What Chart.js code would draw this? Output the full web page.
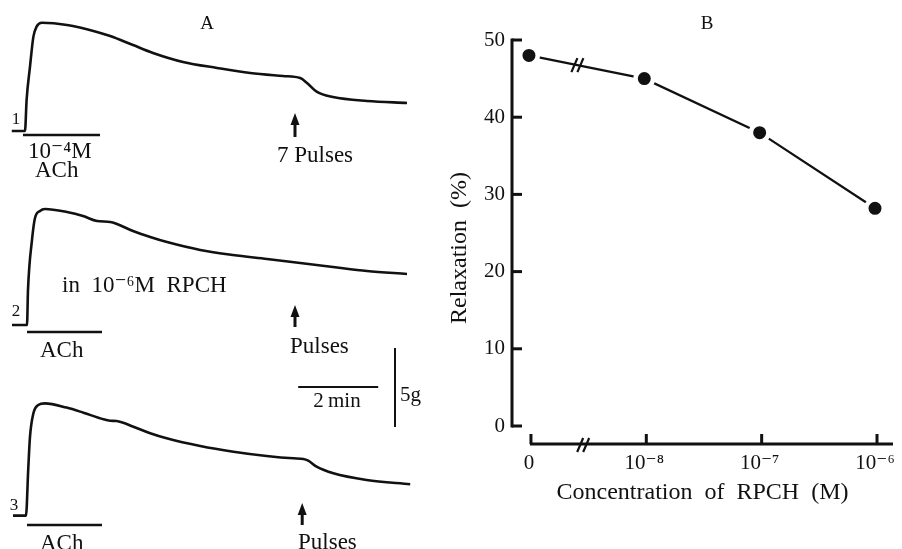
<!DOCTYPE html>
<html>
<head>
<meta charset="utf-8">
<script src="https://cdn.jsdelivr.net/npm/chart.js@4.4.1/dist/chart.umd.min.js"></script>
<style>
  html, body { margin: 0; padding: 0; background: #fff; }
  body { width: 902px; height: 549px; position: relative; overflow: hidden; }
  canvas { position: absolute; top: 0; }
  #traceChart { left: 0; }
  #doseChart { left: 440px; }
</style>
</head>
<body>
<canvas id="traceChart" width="440" height="549"></canvas>
<canvas id="doseChart" width="462" height="549"></canvas>
<script>
// Panel A: tension records, time in min from ACh, force in g above each baseline
const trace1Time = [-0.33, 0, 0.04, 0.125, 0.21, 0.29, 0.42, 1.05, 1.8, 2.13, 2.7, 3.2, 3.95, 4.8, 5.63, 6.45, 6.88, 7.05, 7.3, 7.7, 8.55, 9.55];
const trace1Force = [0, 0, 1.96, 4.07, 5.97, 6.6, 6.85, 6.71, 6.27, 6.01, 5.44, 4.94, 4.37, 3.99, 3.67, 3.48, 3.35, 3.04, 2.47, 2.15, 1.9, 1.77];

const trace2Time = [-0.325, 0.05, 0.075, 0.175, 0.25, 0.375, 0.5, 1.05, 1.45, 1.8, 2.13, 2.3, 2.7, 3.13, 3.55, 4.38, 5.2, 6.05, 6.88, 7.7, 8.55, 9.55];
const trace2Force = [0, 0, 2.22, 5.38, 6.77, 7.22, 7.34, 7.15, 6.9, 6.58, 6.52, 6.39, 5.95, 5.57, 5.25, 4.75, 4.43, 4.18, 3.92, 3.67, 3.42, 3.23];

const trace3Time = [-0.3, 0.025, 0.08, 0.125, 0.21, 0.33, 0.5, 1.04, 1.46, 1.96, 2.13, 2.29, 2.71, 3.13, 3.54, 4.38, 5.21, 6.04, 6.71, 6.96, 7.08, 7.29, 7.71, 8.54, 9.63];
const trace3Force = [0, 0, 2.89, 5.0, 6.48, 7.0, 7.11, 6.84, 6.52, 6.1, 6.01, 5.99, 5.63, 5.22, 4.9, 4.41, 4.05, 3.78, 3.63, 3.59, 3.48, 3.1, 2.68, 2.26, 1.99];

// ACh application (min) and pulse stimulation time (min) for each record
const achStart = [-0.05, 0.05, 0.05];
const achEnd = [1.875, 1.925, 1.925];
const pulseTime = [6.75, 6.75, 6.93];
const pulseLabels = ["7 Pulses", "Pulses", "Pulses"];

// Panel B: relaxation vs RPCH concentration
const concLabels = ["0", "10\u207B\u2078", "10\u207B\u2077", "10\u207B\u2076"];
const relaxation = [48, 45, 38, 28.2];
const relaxTicks = [0, 10, 20, 30, 40, 50];

const ink = "#111";
const serif = "'Liberation Serif', 'DejaVu Serif', serif";

// vertical stacking of the three records (g) and where marks sit relative to them
const traceBase = [26.46, 14.18, 2.11];
const achLevel = [-0.25, -0.44, -0.59];
const arrowTip = [1.14, 1.27, 0.8];
const arrowTail = [-0.38, -0.13, -0.59];

function toPoints(ts, fs, base) {
  return ts.map((t, i) => ({ x: t, y: fs[i] + base }));
}

function traceSet(ts, fs, base) {
  return {
    data: toPoints(ts, fs, base),
    borderColor: ink,
    borderWidth: 2.6,
    pointRadius: 0,
    cubicInterpolationMode: "monotone",
    fill: false,
  };
}

const traceMarks = {
  id: "traceMarks",
  afterDatasetsDraw(chart) {
    const { ctx, scales: { x, y } } = chart;
    ctx.save();
    ctx.strokeStyle = ink;
    ctx.fillStyle = ink;
    for (let i = 0; i < 3; i++) {
      // ACh bar
      const by = y.getPixelForValue(traceBase[i] + achLevel[i]);
      ctx.lineWidth = 2.5;
      ctx.beginPath();
      ctx.moveTo(x.getPixelForValue(achStart[i]), by);
      ctx.lineTo(x.getPixelForValue(achEnd[i]), by);
      ctx.stroke();
      // stimulus arrow
      const ax = x.getPixelForValue(pulseTime[i]);
      const tipY = y.getPixelForValue(traceBase[i] + arrowTip[i]);
      const tailY = y.getPixelForValue(traceBase[i] + arrowTail[i]);
      ctx.lineWidth = 3;
      ctx.beginPath();
      ctx.moveTo(ax, tailY);
      ctx.lineTo(ax, tipY + 8);
      ctx.stroke();
      ctx.beginPath();
      ctx.moveTo(ax, tipY);
      ctx.lineTo(ax - 4.5, tipY + 12);
      ctx.lineTo(ax + 4.5, tipY + 12);
      ctx.closePath();
      ctx.fill();
    }
    // calibration bars: 2 min and 5 g
    ctx.lineWidth = 2;
    const hy = y.getPixelForValue(10.25);
    ctx.beginPath();
    ctx.moveTo(x.getPixelForValue(6.83), hy);
    ctx.lineTo(x.getPixelForValue(8.83), hy);
    ctx.stroke();
    const vx = x.getPixelForValue(9.25);
    ctx.beginPath();
    ctx.moveTo(vx, y.getPixelForValue(7.72));
    ctx.lineTo(vx, y.getPixelForValue(12.72));
    ctx.stroke();

    // text
    ctx.textBaseline = "alphabetic";
    ctx.textAlign = "center";
    ctx.font = "19px " + serif;
    ctx.fillText("A", 207, 29);
    ctx.font = "17px " + serif;
    ctx.fillText("1", 16, 124);
    ctx.fillText("2", 16, 316);
    ctx.fillText("3", 14, 510);
    ctx.textAlign = "left";
    ctx.font = "23px " + serif;
    ctx.fillText("10\u207B\u2074M", 28, 158);
    ctx.fillText("ACh", 35, 177);
    ctx.fillText("ACh", 40, 357);
    ctx.fillText("ACh", 40, 550);
    ctx.fillText(pulseLabels[0], 277, 162);
    ctx.fillText(pulseLabels[1], 290, 353);
    ctx.fillText(pulseLabels[2], 298, 549);
    ctx.fillText("in  10\u207B\u2076M  RPCH", 62, 292);
    ctx.font = "21px " + serif;
    ctx.textAlign = "center";
    ctx.fillText("2\u2009min", 337, 407);
    ctx.textAlign = "left";
    ctx.fillText("5g", 400, 401);
    ctx.restore();
  },
};

new Chart(document.getElementById("traceChart"), {
  type: "line",
  data: {
    datasets: [
      traceSet(trace1Time, trace1Force, traceBase[0]),
      traceSet(trace2Time, trace2Force, traceBase[1]),
      traceSet(trace3Time, trace3Force, traceBase[2]),
    ],
  },
  options: {
    responsive: false,
    animation: false,
    devicePixelRatio: 1,
    layout: { padding: 0, autoPadding: false },
    plugins: { legend: { display: false }, tooltip: { enabled: false } },
    scales: {
      x: { type: "linear", min: -0.625, max: 10.375, display: false },
      y: { type: "linear", min: 0, max: 34.75, display: false },
    },
  },
  plugins: [traceMarks],
});

const breakOnLine = 0.42;
const breakOnAxis = 0.47;

function drawBreak(ctx, px, py) {
  ctx.beginPath();
  ctx.moveTo(px - 6, py + 7);
  ctx.lineTo(px, py - 7);
  ctx.moveTo(px, py + 7);
  ctx.lineTo(px + 6, py - 7);
  ctx.stroke();
}

const doseAxes = {
  id: "doseAxes",
  beforeDatasetsDraw(chart) {
    const { ctx, chartArea, scales: { x, y } } = chart;
    ctx.save();
    ctx.strokeStyle = ink;
    ctx.lineWidth = 3;
    const left = chartArea.left;
    const top = y.getPixelForValue(relaxTicks[relaxTicks.length - 1]);
    const bot = y.getPixelForValue(0);
    ctx.beginPath();
    ctx.moveTo(left, top - 1.5);
    ctx.lineTo(left, bot + 1.5);
    ctx.stroke();
    relaxTicks.forEach((v) => {
      const py = y.getPixelForValue(v);
      ctx.beginPath();
      ctx.moveTo(left, py);
      ctx.lineTo(left + 10, py);
      ctx.stroke();
    });
    const ay = bot + 18;
    ctx.beginPath();
    ctx.moveTo(x.getPixelForValue(0) + 1, ay);
    ctx.lineTo(chartArea.right, ay);
    ctx.stroke();
    concLabels.forEach((l, i) => {
      const px = x.getPixelForValue(i) + 2;
      ctx.beginPath();
      ctx.moveTo(px, ay);
      ctx.lineTo(px, ay - 10);
      ctx.stroke();
    });
    ctx.lineWidth = 2.2;
    drawBreak(ctx, x.getPixelForValue(breakOnAxis), ay + 1);
    ctx.restore();
  },
  afterDatasetsDraw(chart) {
    const { ctx, scales: { x, y } } = chart;
    ctx.save();
    ctx.strokeStyle = ink;
    ctx.fillStyle = ink;
    ctx.lineWidth = 2.2;
    const v = relaxation[0] + (relaxation[1] - relaxation[0]) * breakOnLine;
    drawBreak(ctx, x.getPixelForValue(breakOnLine), y.getPixelForValue(v));
    ctx.font = "19px " + serif;
    ctx.textAlign = "center";
    ctx.fillText("B", 267, 29);
    ctx.restore();
  },
};

new Chart(document.getElementById("doseChart"), {
  type: "line",
  data: {
    datasets: [
      {
        data: relaxation.map((r, i) => ({ x: i, y: r })),
        borderColor: ink,
        borderWidth: 2.3,
        pointRadius: 8.75,
        pointBorderWidth: 4.5,
        pointBackgroundColor: ink,
        pointBorderColor: "#fff",
        tension: 0,
        fill: false,
      },
    ],
  },
  options: {
    responsive: false,
    animation: false,
    devicePixelRatio: 1,
    layout: { padding: { top: 40, right: 9, left: 0, bottom: 0 }, autoPadding: false },
    plugins: { legend: { display: false }, tooltip: { enabled: false } },
    scales: {
      x: {
        type: "linear",
        min: -0.147,
        max: 3.156,
        afterFit: (s) => {
          s.height = 123;
          s.paddingLeft = 0;
          s.paddingRight = 0;
        },
        afterBuildTicks: (s) => { s.ticks = concLabels.map((l, i) => ({ value: i })); },
        grid: { display: false, drawTicks: false },
        border: { display: false },
        ticks: {
          autoSkip: false,
          maxRotation: 0,
          padding: 25,
          color: ink,
          font: { family: serif, size: 21 },
          callback: (v) => concLabels[v],
        },
        title: {
          display: true,
          text: "Concentration  of  RPCH  (M)",
          color: ink,
          font: { family: serif, size: 24 },
          padding: { top: 0, bottom: 42 },
        },
      },
      y: {
        min: 0,
        max: 50,
        afterFit: (s) => {
          s.width = 72;
          s.paddingTop = 0;
          s.paddingBottom = 0;
        },
        afterBuildTicks: (s) => { s.ticks = relaxTicks.map((v) => ({ value: v })); },
        grid: { display: false, drawTicks: false },
        border: { display: false },
        ticks: { padding: 7, color: ink, font: { family: serif, size: 21 } },
        title: {
          display: true,
          text: "Relaxation  (%)\u00A0\u00A0\u00A0\u00A0\u00A0",
          color: ink,
          font: { family: serif, size: 24 },
          padding: { top: 5, bottom: 0 },
        },
      },
    },
  },
  plugins: [doseAxes],
});
</script>
</body>
</html>
